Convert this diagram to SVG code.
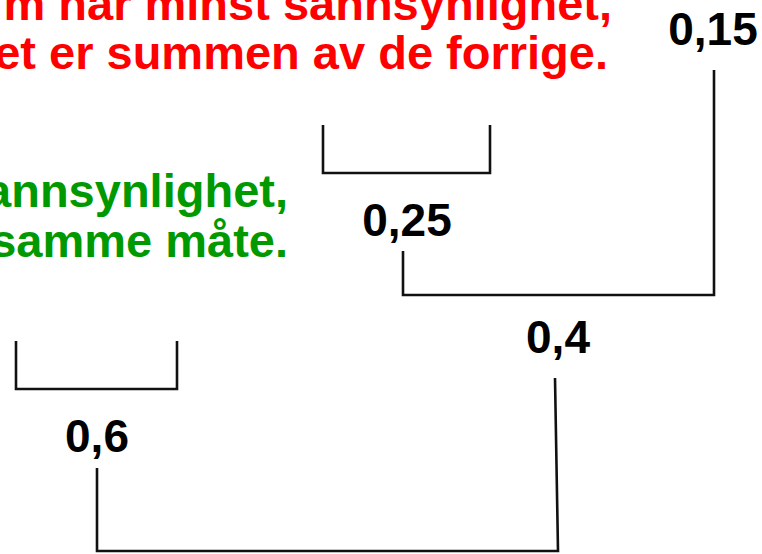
<svg xmlns="http://www.w3.org/2000/svg" width="762" height="554" viewBox="0 0 762 554">
<style>
.note{font-family:"Liberation Sans",Arial,sans-serif;font-weight:bold;font-size:47px;text-anchor:end}
.red{fill:#FF0000}
.green{fill:#009900}
.num{font-family:"Liberation Sans",Arial,sans-serif;font-weight:bold;font-size:46px;text-anchor:middle;fill:#000}
.edge{fill:none;stroke:#111;stroke-width:2.6;stroke-linejoin:miter}
</style>
<rect width="762" height="554" fill="#fff"/>
<g id="note-red">
<text class="note red" x="612" y="20">m har minst sannsynlighet,</text>
<text class="note red" x="608" y="69">et er summen av de forrige.</text>
</g>
<g id="note-green">
<text class="note green" x="288" y="207">annsynlighet,</text>
<text class="note green" x="288" y="257">samme måte.</text>
</g>
<g id="n015"><text class="num" x="713" y="45">0,15</text></g>
<g id="n025"><text class="num" x="407" y="236">0,25</text></g>
<g id="n04"><text class="num" x="558" y="353">0,4</text></g>
<g id="n06"><text class="num" x="97" y="452">0,6</text></g>
<g id="connectors">
<path class="edge" d="M323,125 V173 H490 V125"/>
<path class="edge" d="M403,251 V295 H714 V70"/>
<path class="edge" d="M16,341 V389 H177 V341"/>
<path class="edge" d="M97,468 V551 H558 L555,378"/>
</g>
</svg>
